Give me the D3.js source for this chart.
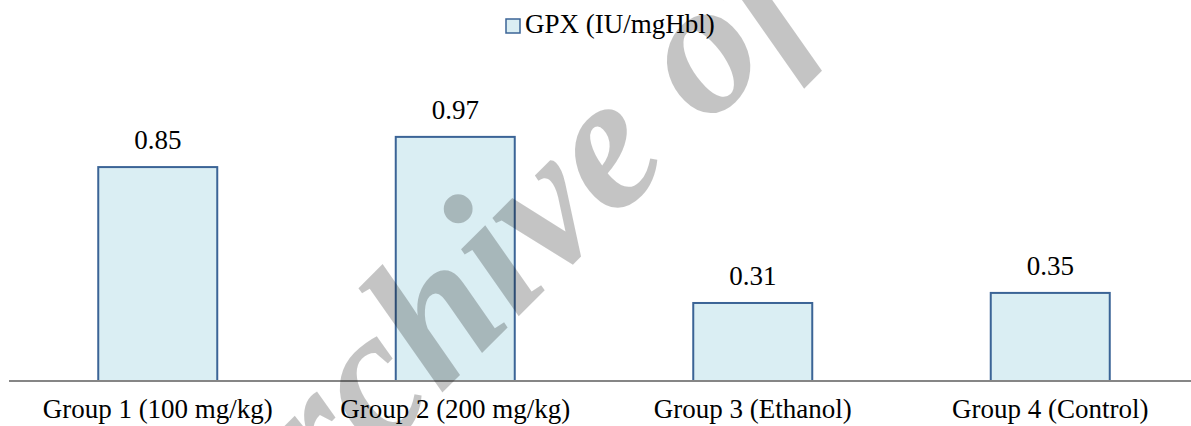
<!DOCTYPE html>
<html>
<head>
<meta charset="utf-8">
<script src="https://cdn.jsdelivr.net/npm/d3@7"></script>
<style>
  html, body { margin: 0; padding: 0; background: #fff; }
  svg { display: block; }
  svg text { font-family: 'Liberation Serif', 'Times New Roman', Times, serif; fill: #000; }
</style>
</head>
<body>
<svg id="chart" width="1191" height="426"></svg>
<script>
// Chart data
const categories = ["Group 1 (100 mg/kg)", "Group 2 (200 mg/kg)", "Group 3 (Ethanol)", "Group 4 (Control)"];
const gpxValues = [0.85, 0.97, 0.31, 0.35];
const valueLabels = ["0.85", "0.97", "0.31", "0.35"];
const seriesName = "GPX (IU/mgHbl)";
const yDomain = [0, 1.2];

const W = 1191, H = 426;
const serif = "'Liberation Serif', 'Times New Roman', Times, serif";
const barFill = "#DAEEF3";
const barStroke = "#3B6496";
const axisColor = "#868686";
const fontSize = 27;

const svg = d3.select("#chart");

const x = d3.scaleBand()
  .domain(categories)
  .range([9, 1199])
  .paddingInner(0.6)
  .paddingOuter(0.3);

const y = d3.scaleLinear()
  .domain(yDomain)
  .range([381, 79]);

const data = categories.map((c, i) => ({ cat: c, value: gpxValues[i], label: valueLabels[i] }));

// Bars
svg.append("g").selectAll("rect")
  .data(data)
  .join("rect")
  .attr("x", d => x(d.cat))
  .attr("y", d => y(d.value))
  .attr("width", x.bandwidth())
  .attr("height", d => y(0) - y(d.value))
  .attr("fill", barFill)
  .attr("stroke", barStroke)
  .attr("stroke-width", 2);

// Category axis
const xAxis = d3.axisBottom(x).tickSize(0).tickSizeOuter(0).tickPadding(18);
const gx = svg.append("g")
  .attr("transform", `translate(0,${y(0)})`)
  .call(xAxis)
  .attr("font-family", serif)
  .attr("font-size", fontSize);
gx.select(".domain")
  .attr("stroke", axisColor)
  .attr("stroke-width", 2)
  .attr("d", `M9,0H${W}`);
gx.selectAll(".tick text")
  .attr("font-family", serif)
  .attr("font-size", fontSize)
  .attr("fill", "#000");

// Value labels
svg.append("g").selectAll("text")
  .data(data)
  .join("text")
  .attr("x", d => x(d.cat) + x.bandwidth() / 2)
  .attr("y", d => y(d.value) - 18)
  .attr("text-anchor", "middle")
  .attr("font-family", serif)
  .attr("font-size", fontSize)
  .text(d => d.label);

// Legend
const legend = svg.append("g").attr("transform", "translate(506,19)");
legend.append("rect")
  .attr("width", 14).attr("height", 14)
  .attr("fill", barFill)
  .attr("stroke", barStroke)
  .attr("stroke-width", 1.5);
legend.append("text")
  .attr("x", 19)
  .attr("y", 14)
  .attr("font-family", serif)
  .attr("font-size", fontSize)
  .text(seriesName);

// Watermark
svg.append("text")
  .attr("transform", "translate(236,599) rotate(-45)")
  .attr("font-family", serif)
  .attr("font-weight", "bold")
  .attr("font-style", "italic")
  .attr("font-size", 192)
  .attr("fill", "#000")
  .attr("fill-opacity", 0.23)
  .style("pointer-events", "none")
  .text("Archive of SID");
</script>
</body>
</html>
